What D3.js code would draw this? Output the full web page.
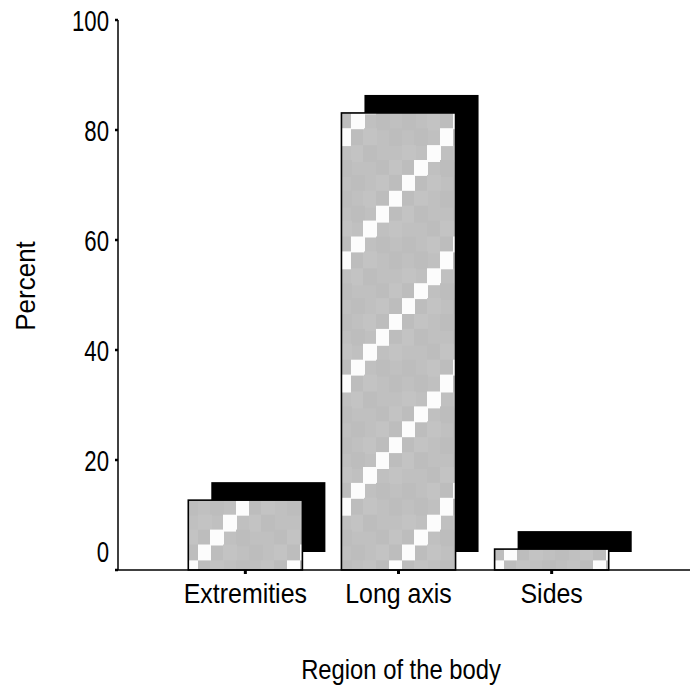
<!DOCTYPE html>
<html>
<head>
<meta charset="utf-8">
<script src="https://cdn.jsdelivr.net/npm/d3@7"></script>
<style>
  html, body { margin: 0; padding: 0; background: #fff; }
  svg { display: block; }
  text { font-family: "Liberation Sans", Arial, sans-serif; fill: #000; }
</style>
</head>
<body>
<svg id="chart" width="691" height="694"></svg>
<script>
const categories = ["Extremities", "Long axis", "Sides"];
const values = [12.7, 83.1, 3.8];
const yTicks = [0, 20, 40, 60, 80, 100];
const yTitle = "Percent";
const xTitle = "Region of the body";

const svg = d3.select("#chart");

const y = d3.scaleLinear().domain([0, 100]).range([570, 20]);
const x = d3.scaleBand().domain(categories).range([150, 647]).paddingInner(0.255).paddingOuter(0.25);

// Pattern: grey cells with a stepped white diagonal
const cw = 102 / 8, ch = 123.2 / 8;
const defs = svg.append("defs");
const pat = defs.append("pattern")
  .attr("id", "diag")
  .attr("patternUnits", "userSpaceOnUse")
  .attr("x", 198).attr("y", 437.2)
  .attr("width", 102).attr("height", 123.2);
pat.append("rect").attr("width", 102).attr("height", 123.2).attr("fill", "#c0c0c0");
for (let r = 0; r < 8; r++) {
  for (let c = 0; c < 8; c++) {
    let col = null;
    if (c === 7 - r) col = "#fcfcfc";
    else if ((r + 2 * c) % 3 === 0) col = "#bdbdbd";
    else if ((r * 5 + c) % 4 === 1) col = "#c3c3c3";
    if (!col) continue;
    pat.append("rect")
      .attr("x", Math.floor(c * cw)).attr("y", Math.floor(r * ch))
      .attr("width", Math.ceil(cw) + 1).attr("height", Math.ceil(ch) + 1)
      .attr("fill", col)
      .attr("shape-rendering", "crispEdges");
  }
}
// re-draw the white diagonal on top so it stays continuous
for (let r = 0; r < 8; r++) {
  const c = 7 - r;
  pat.append("rect")
    .attr("x", Math.floor(c * cw)).attr("y", Math.floor(r * ch))
    .attr("width", Math.ceil(cw)).attr("height", Math.ceil(ch))
    .attr("fill", "#fcfcfc")
    .attr("shape-rendering", "crispEdges");
}

const data = categories.map((c, i) => ({ cat: c, val: values[i] }));
const shadowDX = 23, shadowDY = -18;

// shadows
svg.append("g").selectAll("rect").data(data).join("rect")
  .attr("x", d => x(d.cat) + shadowDX)
  .attr("y", d => y(d.val) + shadowDY)
  .attr("width", x.bandwidth())
  .attr("height", d => y(0) - y(d.val))
  .attr("fill", "#000");

// bars
svg.append("g").selectAll("rect").data(data).join("rect")
  .attr("x", d => x(d.cat))
  .attr("y", d => y(d.val))
  .attr("width", x.bandwidth())
  .attr("height", d => y(0) - y(d.val))
  .attr("fill", "url(#diag)")
  .attr("stroke", "#000")
  .attr("stroke-width", 1.6);

// axes lines
const axisX = 118;
svg.append("line")
  .attr("x1", axisX).attr("x2", axisX)
  .attr("y1", y(100)).attr("y2", y(0))
  .attr("stroke", "#000").attr("stroke-width", 1.5);
svg.append("line")
  .attr("x1", 116).attr("x2", 690)
  .attr("y1", y(0)).attr("y2", y(0))
  .attr("stroke", "#000").attr("stroke-width", 1.5);

// y ticks
svg.append("g").selectAll("line").data(yTicks).join("line")
  .attr("x1", axisX - 3).attr("x2", axisX)
  .attr("y1", d => y(d)).attr("y2", d => y(d))
  .attr("stroke", "#000").attr("stroke-width", 2.5);

// y tick labels (condensed digits)
svg.append("g").selectAll("text").data(yTicks).join("text")
  .attr("transform", d => `translate(109,${y(d) + (d === 0 ? -19 : 0) + 11}) scale(0.74,1)`)
  .attr("text-anchor", "end")
  .attr("font-size", 30)
  .text(d => d);

// x ticks
svg.append("g").selectAll("line").data(categories).join("line")
  .attr("x1", d => x(d) + x.bandwidth() / 2).attr("x2", d => x(d) + x.bandwidth() / 2)
  .attr("y1", y(0)).attr("y2", y(0) + 4)
  .attr("stroke", "#000").attr("stroke-width", 3);

// x tick labels
svg.append("g").selectAll("text").data(categories).join("text")
  .attr("transform", d => `translate(${x(d) + x.bandwidth() / 2},603) scale(0.89,1)`)
  .attr("text-anchor", "middle")
  .attr("font-size", 28)
  .text(d => d);

// titles
svg.append("text")
  .attr("transform", `translate(35,286) rotate(-90) scale(0.93,1)`)
  .attr("text-anchor", "middle")
  .attr("font-size", 28)
  .text(yTitle);

svg.append("text")
  .attr("transform", `translate(401,679) scale(0.85,1)`)
  .attr("text-anchor", "middle")
  .attr("font-size", 28)
  .text(xTitle);
</script>
</body>
</html>
